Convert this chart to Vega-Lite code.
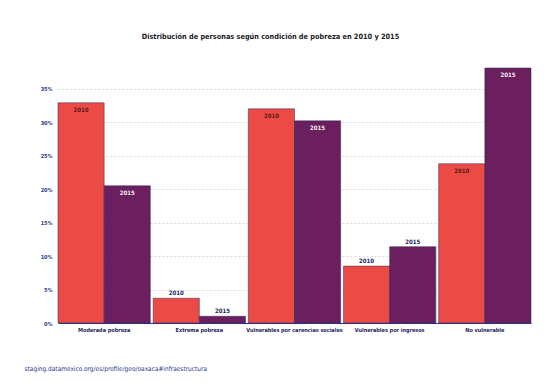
{
  "$schema": "https://vega.github.io/schema/vega-lite/v6.json",
  "autosize": "none",
  "width": 473,
  "height": 255,
  "padding": {"left": 58, "top": 68, "right": 26, "bottom": 68},
  "background": "#ffffff",
  "config": {
    "view": {"stroke": null},
    "font": "'DejaVu Sans Condensed', Roboto, sans-serif"
  },
  "title": {
    "text": "Distribución de personas según condición de pobreza en 2010 y 2015",
    "fontSize": 7.3,
    "fontWeight": "bold",
    "color": "#1c1c2a",
    "anchor": "middle",
    "dx": -24,
    "offset": 27
  },
  "data": {
    "values": [
      {"cat": "Moderada pobreza", "year": "2010", "pct": 32.9},
      {"cat": "Moderada pobreza", "year": "2015", "pct": 20.5},
      {"cat": "Extrema pobreza", "year": "2010", "pct": 3.7},
      {"cat": "Extrema pobreza", "year": "2015", "pct": 1.0},
      {"cat": "Vulnerables por carencias sociales", "year": "2010", "pct": 32.0},
      {"cat": "Vulnerables por carencias sociales", "year": "2015", "pct": 30.2},
      {"cat": "Vulnerables por ingresos", "year": "2010", "pct": 8.5},
      {"cat": "Vulnerables por ingresos", "year": "2015", "pct": 11.4},
      {"cat": "No vulnerable", "year": "2010", "pct": 23.8},
      {"cat": "No vulnerable", "year": "2015", "pct": 38.1}
    ]
  },
  "encoding": {
    "x": {
      "field": "cat",
      "type": "nominal",
      "sort": null,
      "scale": {"paddingInner": 0.03, "paddingOuter": 0},
      "axis": {
        "title": "staging.datamexico.org/es/profile/geo/oaxaca#infraestructura",
        "titleFontSize": 6.5,
        "titleFontWeight": "normal",
        "titleColor": "#2a3a8a",
        "titleAnchor": "start",
        "titleAlign": "left",
        "titleX": -34,
        "titleY": 42,
        "labelAngle": 0,
        "labelFontSize": 5.5,
        "labelFontWeight": "bold",
        "labelColor": "#1a2560",
        "labelPadding": 4,
        "ticks": false,
        "domainColor": "#2a3a8a",
        "domainWidth": 1
      }
    },
    "xOffset": {"field": "year", "type": "nominal"},
    "y": {
      "field": "pct",
      "type": "quantitative",
      "scale": {"domain": [0, 38.1], "nice": false},
      "axis": {
        "title": null,
        "values": [0, 5, 10, 15, 20, 25, 30, 35],
        "labelExpr": "datum.value + '%'",
        "labelFontSize": 5.5,
        "labelFontWeight": "bold",
        "labelColor": "#2a3a8a",
        "labelPadding": 6,
        "ticks": false,
        "domain": false,
        "grid": true,
        "gridColor": "#c8d0e0",
        "gridDash": [2, 2],
        "gridWidth": 0.8
      }
    }
  },
  "layer": [
    {
      "mark": {"type": "bar", "stroke": "#2a2a50", "strokeWidth": 0.5},
      "encoding": {
        "color": {
          "field": "year",
          "type": "nominal",
          "scale": {"domain": ["2010", "2015"], "range": ["#ec4a44", "#6b1f5e"]},
          "legend": null
        }
      }
    },
    {
      "transform": [{"filter": "datum.pct > 15"}],
      "mark": {"type": "text", "baseline": "top", "dy": 4, "fontSize": 6, "fontWeight": "bold"},
      "encoding": {
        "text": {"field": "year"},
        "color": {
          "condition": {"test": "datum.year == '2015'", "value": "#f4eef4"},
          "value": "#5a1a1a"
        }
      }
    },
    {
      "transform": [{"filter": "datum.pct <= 15"}],
      "mark": {"type": "text", "baseline": "bottom", "dy": -2, "fontSize": 6, "fontWeight": "bold", "color": "#1a2560"},
      "encoding": {
        "text": {"field": "year"}
      }
    }
  ]
}
